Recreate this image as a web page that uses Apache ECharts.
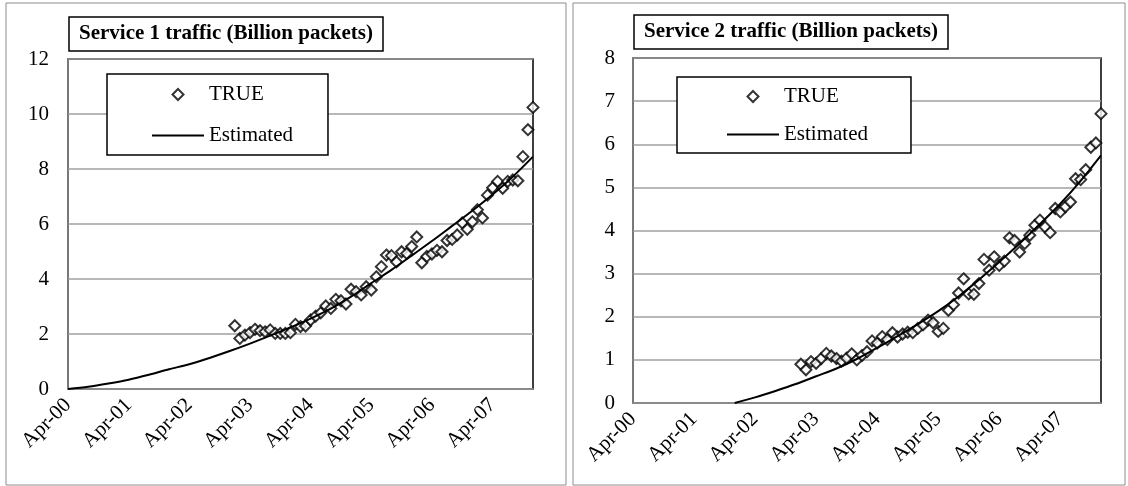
<!DOCTYPE html>
<html>
<head>
<meta charset="utf-8">
<script src="https://cdn.jsdelivr.net/npm/echarts@6/dist/echarts.min.js"></script>
<style>
  html, body { margin: 0; padding: 0; background: #fff; }
  #chart { width: 1128px; height: 486px; }
</style>
</head>
<body>
<div id="chart"></div>
<script>
// x positions are months counted from April 2000 (0 = Apr-00, 12 = Apr-01, ...)
const yearTicks = ['Apr-00', 'Apr-01', 'Apr-02', 'Apr-03', 'Apr-04', 'Apr-05', 'Apr-06', 'Apr-07'];

// monthly observations, Jan-03 .. Dec-07
const obsMonths = [33, 34, 35, 36, 37, 38, 39, 40, 41, 42, 43, 44, 45, 46, 47, 48, 49, 50, 51, 52,
                   53, 54, 55, 56, 57, 58, 59, 60, 61, 62, 63, 64, 65, 66, 67, 68, 69, 70, 71, 72,
                   73, 74, 75, 76, 77, 78, 79, 80, 81, 82, 83, 84, 85, 86, 87, 88, 89, 90, 91, 92];

// Service 1 traffic (billion packets)
const service1True = [2.30, 1.84, 1.96, 2.05, 2.17, 2.12, 2.08, 2.15, 2.02, 2.02, 2.02, 2.05, 2.35, 2.27, 2.29, 2.51, 2.65, 2.77, 3.02, 2.93,
                      3.26, 3.21, 3.09, 3.63, 3.54, 3.42, 3.72, 3.60, 4.08, 4.45, 4.87, 4.85, 4.62, 4.99, 4.93, 5.18, 5.53, 4.59, 4.82, 4.91,
                      5.04, 4.99, 5.40, 5.44, 5.60, 6.04, 5.81, 6.08, 6.52, 6.22, 7.05, 7.32, 7.55, 7.30, 7.55, 7.60, 7.57, 8.45, 9.43, 10.24];
const service1EstMonths = [0, 4, 8, 12, 16, 20, 24, 28, 32, 36, 40, 44, 48, 52, 56, 60, 64, 68, 72, 76, 80, 84, 88, 92];
const service1Est = [0, 0.08, 0.20, 0.34, 0.52, 0.72, 0.90, 1.13, 1.38, 1.65, 1.94, 2.24, 2.56, 2.92, 3.36, 3.85, 4.33, 4.85, 5.38, 5.93, 6.48, 7.07, 7.72, 8.45];

// Service 2 traffic (billion packets)
const service2True = [0.90, 0.77, 0.96, 0.92, 1.03, 1.15, 1.09, 1.03, 0.97, 1.04, 1.14, 1.00, 1.10, 1.19, 1.44, 1.39, 1.54, 1.47, 1.63, 1.53,
                      1.60, 1.64, 1.63, 1.73, 1.81, 1.92, 1.86, 1.66, 1.73, 2.15, 2.28, 2.55, 2.88, 2.53, 2.52, 2.77, 3.33, 3.08, 3.39, 3.19,
                      3.29, 3.83, 3.77, 3.50, 3.70, 3.89, 4.12, 4.24, 4.08, 3.95, 4.51, 4.43, 4.55, 4.66, 5.20, 5.18, 5.41, 5.93, 6.03, 6.71];
const service2EstMonths = [20, 24, 28, 32, 36, 40, 44, 48, 52, 56, 60, 64, 68, 72, 76, 80, 84, 88, 92];
const service2Est = [0, 0.13, 0.28, 0.44, 0.62, 0.80, 1.02, 1.28, 1.55, 1.83, 2.13, 2.47, 2.86, 3.27, 3.70, 4.15, 4.62, 5.15, 5.74];

const titles = ['Service 1 traffic (Billion packets)', 'Service 2 traffic (Billion packets)'];

const FONT = "'Liberation Serif', 'Times New Roman', serif";
const FONT_SIZE = 21;
const GRID_GRAY = '#a0a0a0';

const pairs = (xs, ys) => xs.map((x, i) => [x, ys[i]]);

function xAxisFor(gridIndex) {
  return {
    type: 'value', gridIndex, min: 0, max: 92, interval: 12,
    axisLine: { show: true, lineStyle: { color: '#8c8c8c', width: 1.5 } },
    axisTick: { show: false },
    splitLine: { show: false },
    axisLabel: {
      rotate: 45, margin: 13,
      color: '#000', fontFamily: FONT, fontSize: FONT_SIZE,
      showMaxLabel: false,
      formatter: v => (v % 12 === 0 ? yearTicks[v / 12] : '')
    }
  };
}

function yAxisFor(gridIndex, max, interval, margin) {
  return {
    type: 'value', gridIndex, min: 0, max, interval,
    axisLine: { show: true, lineStyle: { color: '#8c8c8c', width: 1.5 } },
    axisTick: { show: false },
    splitLine: { show: true, lineStyle: { color: GRID_GRAY, width: 1.5 } },
    axisLabel: { margin, color: '#000', fontFamily: FONT, fontSize: FONT_SIZE }
  };
}

// open diamond for the observations, plain stroke for the fitted curve
const diamondIcon = 'path://M5,0L10,5L5,10L0,5Z';
const lineIcon = 'path://M0,0L52,0L52,2L0,2Z';

function legendFor(left, top, padding, itemGap) {
  return {
    left, top, orient: 'vertical', padding, itemGap,
    itemWidth: 52, itemHeight: 11,
    backgroundColor: '#fff', borderColor: '#000', borderWidth: 1.5,
    selectedMode: false,
    textStyle: { color: '#000', fontFamily: FONT, fontSize: FONT_SIZE, lineHeight: 21 },
    data: [
      { name: 'TRUE', icon: diamondIcon, itemStyle: { color: '#fff', borderColor: '#000', borderWidth: 2 } },
      { name: 'Estimated', icon: lineIcon, itemStyle: { color: '#000', borderWidth: 0 } }
    ]
  };
}

function titleFor(text, left, top) {
  return {
    text, left, top,
    padding: [6, 10],
    borderColor: '#000', borderWidth: 1.5, backgroundColor: '#fff',
    textStyle: { color: '#000', fontFamily: FONT, fontSize: FONT_SIZE, fontWeight: 'bold', lineHeight: 22 }
  };
}

function scatterFor(idx, values) {
  return {
    name: 'TRUE', type: 'scatter', xAxisIndex: idx, yAxisIndex: idx,
    data: pairs(obsMonths, values),
    symbol: 'diamond', symbolSize: 11,
    itemStyle: { color: '#fff', borderColor: '#000', borderWidth: 2 },
    z: 3
  };
}

function lineFor(idx, months, values) {
  return {
    name: 'Estimated', type: 'line', xAxisIndex: idx, yAxisIndex: idx,
    data: pairs(months, values),
    smooth: 0.3, symbol: 'none',
    lineStyle: { color: '#000', width: 2 },
    itemStyle: { color: '#000' },
    z: 4
  };
}

const chart = echarts.init(document.getElementById('chart'), null, { renderer: 'canvas' });

chart.setOption({
  animation: false,
  backgroundColor: '#fff',
  title: [titleFor(titles[0], 69, 17), titleFor(titles[1], 634, 15)],
  legend: [
    legendFor(107, 74, [10, 35, 9, 45], 20),
    legendFor(677, 77, [9, 43, 8, 50], 17)
  ],
  grid: [
    { left: 68, top: 59, width: 465, height: 330, show: true, borderColor: '#000', borderWidth: 1.5, backgroundColor: 'transparent' },
    { left: 633, top: 58, width: 468, height: 345, show: true, borderColor: '#000', borderWidth: 1.5, backgroundColor: 'transparent' }
  ],
  xAxis: [xAxisFor(0), xAxisFor(1)],
  yAxis: [yAxisFor(0, 12, 2, 19), yAxisFor(1, 8, 1, 18)],
  graphic: [
    { type: 'rect', shape: { x: 6, y: 3, width: 560, height: 482 }, style: { fill: 'none', stroke: '#8c8c8c', lineWidth: 1 }, silent: true },
    { type: 'rect', shape: { x: 573, y: 3, width: 552, height: 482 }, style: { fill: 'none', stroke: '#8c8c8c', lineWidth: 1 }, silent: true }
  ],
  series: [
    scatterFor(0, service1True),
    lineFor(0, service1EstMonths, service1Est),
    scatterFor(1, service2True),
    lineFor(1, service2EstMonths, service2Est)
  ]
});
</script>
</body>
</html>
